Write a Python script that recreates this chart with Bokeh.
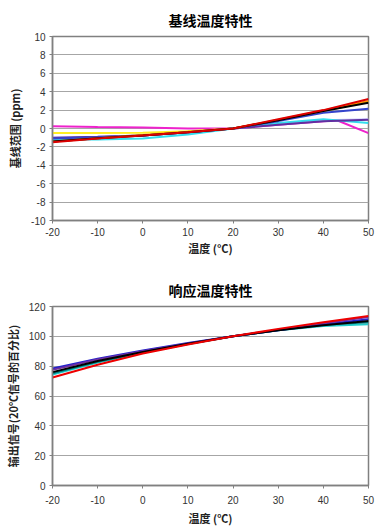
from bokeh.plotting import figure
from bokeh.layouts import column
from bokeh.models import FixedTicker, Range1d, NumeralTickFormatter
from bokeh.embed import file_html
from bokeh.resources import INLINE

# ---------- data: baseline temperature characteristic ----------
temp = [-20, -10, 0, 10, 20, 30, 40, 50]
base_red = [-1.5, -1.1, -0.75, -0.4, 0.0, 1.0, 2.0, 3.2]
base_orange = [-1.4, -1.05, -0.7, -0.35, 0.0, 0.95, 1.95, 3.0]
base_black = [-1.4, -1.05, -0.75, -0.4, 0.0, 0.9, 1.9, 2.8]
base_blue = [-1.1, -0.95, -0.75, -0.4, 0.0, 0.8, 1.7, 2.15]
base_purple = [-1.0, -0.9, -0.75, -0.4, 0.0, 0.4, 0.8, 0.95]
base_cyan = [-1.2, -1.2, -1.1, -0.65, 0.0, 0.6, 1.0, 0.6]
base_lavender = [-1.0, -0.9, -0.75, -0.4, 0.0, 0.5, 0.9, 1.0]
base_yellow = [-0.5, -0.5, -0.45, -0.3, 0.0, 0.9, 1.9, 2.9]
temp_mag = [-20, -10, 0, 10, 20, 30, 43, 50]
base_magenta = [0.25, 0.15, 0.1, 0.0, 0.0, 0.4, 0.9, -0.5]

# ---------- data: response temperature characteristic ----------
resp_red = [72.4, 81.0, 88.5, 94.5, 100.0, 105.0, 109.5, 113.6]
resp_blue = [78.5, 85.0, 90.5, 95.5, 100.0, 104.0, 108.0, 111.5]
resp_purple = [77.5, 84.5, 90.0, 95.2, 100.0, 104.5, 108.8, 112.9]
resp_black = [76.0, 83.5, 89.5, 95.0, 100.0, 104.0, 107.5, 110.3]
resp_cyan = [74.4, 82.5, 89.0, 94.8, 100.0, 104.0, 107.0, 108.1]
resp_green = [75.2, 83.0, 89.2, 94.9, 100.0, 104.2, 107.8, 109.5]

x_ticks = [-20, -10, 0, 10, 20, 30, 40, 50]
base_ticks = [-10, -8, -6, -4, -2, 0, 2, 4, 6, 8, 10]
resp_ticks = [0, 20, 40, 60, 80, 100, 120]

CJK = "Noto Sans CJK SC"
TICKF = "Liberation Sans"


def style(p, yticks, xlabel_standoff, xtick_standoff):
    p.title.text_font = CJK
    p.title.text_font_size = "14px"
    p.title.text_font_style = "bold"
    p.title.align = "center"
    p.title.text_color = "#000000"
    p.title.standoff = 13
    p.outline_line_color = "#808080"
    p.outline_line_width = 1.5
    p.xgrid.grid_line_color = None
    p.ygrid.grid_line_color = "#a6a6a6"
    p.ygrid.grid_line_width = 1
    p.xaxis.ticker = FixedTicker(ticks=x_ticks)
    p.yaxis.ticker = FixedTicker(ticks=yticks)
    p.xaxis.formatter = NumeralTickFormatter(format="0")
    p.yaxis.formatter = NumeralTickFormatter(format="0")
    for ax in (p.xaxis[0], p.yaxis[0]):
        ax.axis_line_color = "#808080"
        ax.axis_line_width = 1.5
        ax.major_tick_line_color = "#808080"
        ax.major_tick_out = 3
        ax.major_tick_in = 0
        ax.minor_tick_line_color = None
        ax.major_label_text_font = TICKF
        ax.major_label_text_font_size = "10px"
        ax.major_label_text_color = "#333333"
        ax.major_label_standoff = 4
        ax.axis_label_text_font = CJK
        ax.axis_label_text_font_size = "11px"
        ax.axis_label_text_font_style = "bold"
        ax.axis_label_text_color = "#222222"
        ax.axis_label_standoff = 5
    p.xaxis[0].axis_label_standoff = xlabel_standoff
    p.xaxis[0].major_label_standoff = xtick_standoff
    p.background_fill_color = "white"
    p.border_fill_color = "white"


p1 = figure(width=376, height=270, output_backend="svg", toolbar_location=None,
            title="基线温度特性", x_range=Range1d(-20, 50), y_range=Range1d(-10, 10),
            min_border_left=52, min_border_right=8, min_border_top=36, min_border_bottom=50,
            x_axis_label="温度 (°C)", y_axis_label="基线范围 (ppm)")
style(p1, base_ticks, 1, 4)
lw = 2
p1.line(temp_mag, base_magenta, line_color="#ee22cc", line_width=lw)
p1.line(temp, base_yellow, line_color="#ffee22", line_width=lw)
p1.line(temp, base_lavender, line_color="#c8c8ff", line_width=lw)
p1.line(temp, base_cyan, line_color="#33ddee", line_width=lw)
p1.line(temp, base_purple, line_color="#6030a0", line_width=lw)
p1.line(temp, base_blue, line_color="#3344cc", line_width=lw)
p1.line(temp, base_orange, line_color="#ff9900", line_width=lw)
p1.line(temp, base_black, line_color="#000000", line_width=lw)
p1.line(temp, base_red, line_color="#dd0000", line_width=lw)

p2 = figure(width=376, height=258, output_backend="svg", toolbar_location=None,
            title="响应温度特性", x_range=Range1d(-20, 50), y_range=Range1d(0, 120),
            min_border_left=50, min_border_right=7, min_border_top=36, min_border_bottom=40,
            x_axis_label="温度 (℃)", y_axis_label="输出信号(20℃信号的百分比)")
style(p2, resp_ticks, 3, 7)
p2.line(temp, resp_cyan, line_color="#22cccc", line_width=lw)
p2.line(temp, resp_green, line_color="#008080", line_width=lw)
p2.line(temp, resp_blue, line_color="#2222cc", line_width=lw)
p2.line(temp, resp_purple, line_color="#7030a0", line_width=lw)
p2.line(temp, resp_black, line_color="#000000", line_width=lw)
p2.line(temp, resp_red, line_color="#ee0000", line_width=lw)

layout = column(p1, p2, spacing=0)
open("out.html", "w").write(file_html(layout, INLINE))
